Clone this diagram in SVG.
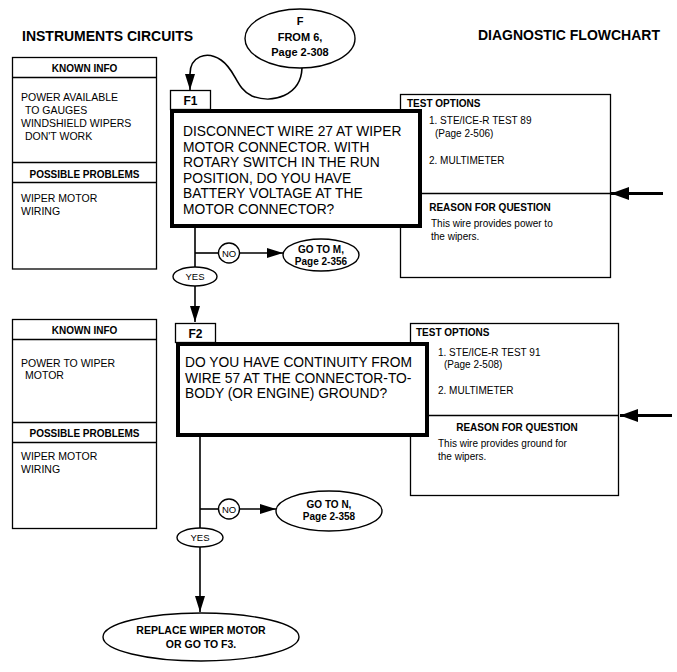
<svg xmlns="http://www.w3.org/2000/svg" width="677" height="672" viewBox="0 0 677 672">
<style>
text{font-family:"Liberation Sans",Arial,sans-serif;fill:#000}
.title{font-size:14px;font-weight:bold}
.hdr{font-size:10px;font-weight:bold}
.info{font-size:10.5px}
.opt{font-size:10px}
.q{font-size:13.8px}
.tab{font-size:12px;font-weight:bold}
.ov{font-size:10.5px;font-weight:bold}
.yn{font-size:9.5px}
.box{fill:#fff;stroke:#000;stroke-width:1.3}
.thick{fill:#fff;stroke:#000;stroke-width:4}
.ln{fill:none;stroke:#000;stroke-width:1.6}
.sh{fill:#fff;stroke:#000;stroke-width:1.4}
.big{fill:none;stroke:#000;stroke-width:3}
</style>
<defs>
<marker id="ah" viewBox="0 0 16 10" refX="16" refY="5" markerUnits="userSpaceOnUse" markerWidth="16" markerHeight="10" orient="auto">
<path d="M0,0 L16,5 L0,10 z" fill="#000"/>
</marker>
<marker id="bh" viewBox="0 0 18 13" refX="18" refY="6.5" markerUnits="userSpaceOnUse" markerWidth="18" markerHeight="13" orient="auto">
<path d="M0,0 L18,6.5 L0,13 z" fill="#000"/>
</marker>
</defs>
<rect width="677" height="672" fill="#fff"/>
<text class="title" x="22" y="41">INSTRUMENTS CIRCUITS</text>
<text class="title" x="478" y="40">DIAGNOSTIC FLOWCHART</text>

<g id="info1">
<rect class="box" x="12.5" y="57.5" width="144" height="211.5"/>
<line class="box" x1="12.5" y1="77.5" x2="156.5" y2="77.5"/>
<line class="box" x1="12.5" y1="162.5" x2="156.5" y2="162.5"/>
<line class="box" x1="12.5" y1="182.5" x2="156.5" y2="182.5"/>
<text class="hdr" x="84.5" y="72" text-anchor="middle">KNOWN INFO</text>
<text class="info" x="21" y="101">POWER AVAILABLE</text>
<text class="info" x="25" y="114">TO GAUGES</text>
<text class="info" x="21" y="127">WINDSHIELD WIPERS</text>
<text class="info" x="25" y="140">DON'T WORK</text>
<text class="hdr" x="84.5" y="177.5" text-anchor="middle">POSSIBLE PROBLEMS</text>
<text class="info" x="21" y="202">WIPER MOTOR</text>
<text class="info" x="21" y="215">WIRING</text>
</g>

<g id="info2">
<rect class="box" x="12.5" y="319.5" width="144" height="209"/>
<line class="box" x1="12.5" y1="339.5" x2="156.5" y2="339.5"/>
<line class="box" x1="12.5" y1="422.5" x2="156.5" y2="422.5"/>
<line class="box" x1="12.5" y1="442.5" x2="156.5" y2="442.5"/>
<text class="hdr" x="84.5" y="334" text-anchor="middle">KNOWN INFO</text>
<text class="info" x="21" y="366.5">POWER TO WIPER</text>
<text class="info" x="25" y="379">MOTOR</text>
<text class="hdr" x="84.5" y="437" text-anchor="middle">POSSIBLE PROBLEMS</text>
<text class="info" x="21" y="460">WIPER MOTOR</text>
<text class="info" x="21" y="473">WIRING</text>
</g>

<g id="options1">
<rect class="box" x="400.5" y="94.5" width="210" height="183"/>
<line class="box" x1="400.5" y1="193.5" x2="610.5" y2="193.5"/>
<text class="hdr" x="407" y="107">TEST OPTIONS</text>
<text class="opt" x="429" y="124">1. STE/ICE-R TEST 89</text>
<text class="opt" x="435" y="137">(Page 2-506)</text>
<text class="opt" x="429" y="164">2. MULTIMETER</text>
<text class="hdr" x="490" y="211" text-anchor="middle">REASON FOR QUESTION</text>
<text class="opt" x="431" y="227">This wire provides power to</text>
<text class="opt" x="431" y="240">the wipers.</text>
</g>

<g id="options2">
<rect class="box" x="410.5" y="323.5" width="208" height="172"/>
<line class="box" x1="410.5" y1="415.5" x2="618.5" y2="415.5"/>
<text class="hdr" x="416" y="336">TEST OPTIONS</text>
<text class="opt" x="438" y="356">1. STE/ICE-R TEST 91</text>
<text class="opt" x="444" y="368">(Page 2-508)</text>
<text class="opt" x="438" y="394">2. MULTIMETER</text>
<text class="hdr" x="517" y="431" text-anchor="middle">REASON FOR QUESTION</text>
<text class="opt" x="438" y="447">This wire provides ground for</text>
<text class="opt" x="438" y="460">the wipers.</text>
</g>

<g id="F1">
<rect class="box" x="170.5" y="90.5" width="40" height="19"/>
<text class="tab" x="190.5" y="104.5" text-anchor="middle">F1</text>
<rect class="thick" x="172" y="111" width="248" height="115"/>
<text class="q" x="183" y="136">DISCONNECT WIRE 27 AT WIPER</text>
<text class="q" x="183" y="151.5">MOTOR CONNECTOR. WITH</text>
<text class="q" x="183" y="167">ROTARY SWITCH IN THE RUN</text>
<text class="q" x="183" y="182.5">POSITION, DO YOU HAVE</text>
<text class="q" x="183" y="198">BATTERY VOLTAGE AT THE</text>
<text class="q" x="183" y="213.5">MOTOR CONNECTOR?</text>
</g>

<g id="F2">
<rect class="box" x="175.5" y="323.5" width="40" height="19"/>
<text class="tab" x="195.5" y="337.5" text-anchor="middle">F2</text>
<rect class="thick" x="178" y="344" width="249" height="91"/>
<text class="q" x="185" y="367">DO YOU HAVE CONTINUITY FROM</text>
<text class="q" x="185" y="382.5">WIRE 57 AT THE CONNECTOR-TO-</text>
<text class="q" x="185" y="398">BODY (OR ENGINE) GROUND?</text>
</g>

<g id="connectors">
<path class="ln" d="M302,68 C301,96 272,104 252,96 C236,89 236,70 221,60 C206,50 190,57 190,74 L190,90" marker-end="url(#ah)"/>
<line class="ln" x1="195" y1="228" x2="195" y2="267"/>
<line class="ln" x1="195" y1="253" x2="218.5" y2="253"/>
<line class="ln" x1="240" y1="253" x2="283" y2="253" marker-end="url(#ah)"/>
<line class="ln" x1="195" y1="286" x2="195" y2="322" marker-end="url(#ah)"/>
<line class="ln" x1="200" y1="437" x2="200" y2="529"/>
<line class="ln" x1="200" y1="509" x2="218.5" y2="509"/>
<line class="ln" x1="240" y1="509" x2="276" y2="509" marker-end="url(#ah)"/>
<line class="ln" x1="200" y1="546" x2="200" y2="612" marker-end="url(#ah)"/>
<line class="big" x1="663" y1="193.5" x2="611" y2="193.5" marker-end="url(#bh)"/>
<line class="big" x1="672" y1="415.5" x2="620" y2="415.5" marker-end="url(#bh)"/>
</g>

<g id="fromF">
<ellipse class="sh" cx="300" cy="38.5" rx="55" ry="29.5"/>
<text class="ov" x="300" y="24.5" text-anchor="middle" style="font-size:11px">F</text>
<text class="ov" x="300" y="40.5" text-anchor="middle" style="font-size:11px">FROM 6,</text>
<text class="ov" x="300" y="55.5" text-anchor="middle" style="font-size:11px">Page 2-308</text>
</g>

<g id="no1">
<ellipse class="sh" cx="229" cy="253" rx="10.5" ry="10"/>
<text class="yn" x="229" y="256.5" text-anchor="middle">NO</text>
</g>
<g id="gotoM">
<ellipse class="sh" cx="321" cy="255" rx="38" ry="16"/>
<text class="ov" x="321" y="252.5" text-anchor="middle" style="font-size:10px">GO TO M,</text>
<text class="ov" x="321" y="265" text-anchor="middle" style="font-size:10px">Page 2-356</text>
</g>
<g id="yes1">
<ellipse class="sh" cx="195" cy="276.5" rx="22" ry="9.5"/>
<text class="yn" x="195" y="280" text-anchor="middle">YES</text>
</g>

<g id="no2">
<ellipse class="sh" cx="229" cy="509" rx="10.5" ry="10"/>
<text class="yn" x="229" y="512.5" text-anchor="middle">NO</text>
</g>
<g id="gotoN">
<ellipse class="sh" cx="329" cy="511" rx="53" ry="20"/>
<text class="ov" x="329" y="507.5" text-anchor="middle" style="font-size:10px">GO TO N,</text>
<text class="ov" x="329" y="520" text-anchor="middle" style="font-size:10px">Page 2-358</text>
</g>
<g id="yes2">
<ellipse class="sh" cx="200" cy="537.5" rx="23" ry="9.5"/>
<text class="yn" x="200" y="541" text-anchor="middle">YES</text>
</g>

<g id="replace">
<ellipse class="sh" cx="201" cy="637" rx="98" ry="24"/>
<text class="ov" x="201" y="634" text-anchor="middle">REPLACE WIPER MOTOR</text>
<text class="ov" x="201" y="648" text-anchor="middle">OR GO TO F3.</text>
</g>
</svg>
